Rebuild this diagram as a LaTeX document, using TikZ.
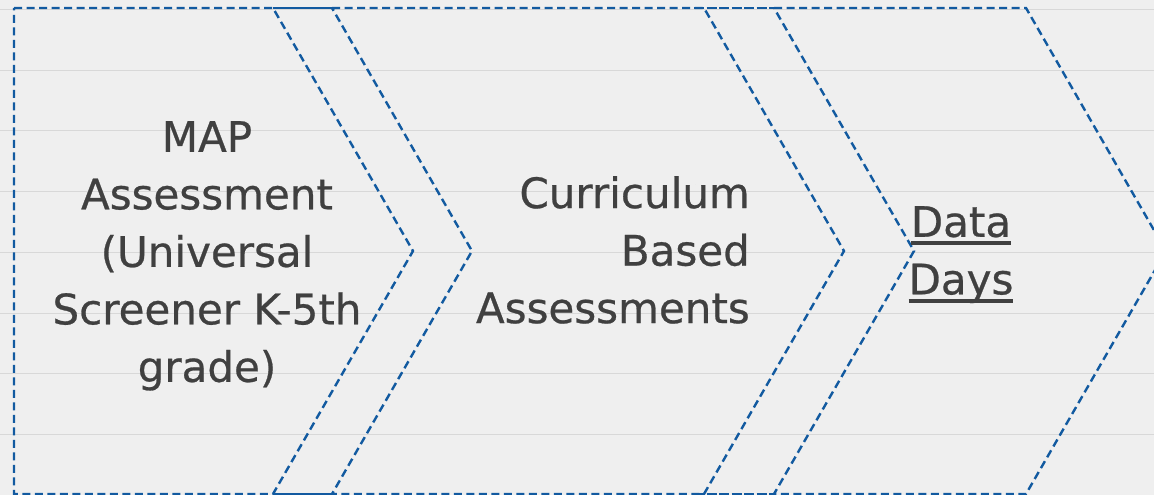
\documentclass[tikz,border=0pt]{standalone}
\usepackage{fontspec}
\setmainfont{DejaVu Sans}[FakeBold=0.6]
\definecolor{paper}{RGB}{239,239,239}
\definecolor{ruling}{RGB}{216,216,216}
\definecolor{edge}{RGB}{18,90,160}
\definecolor{ink}{RGB}{64,64,64}
% underline at a fixed depth below the baseline
\newcommand{\ulword}[1]{\setbox0\hbox{#1}\rlap{\rule[-0.2em]{\wd0}{0.1em}}\box0}
\begin{document}
\begin{tikzpicture}[x=1pt,y=-1pt,
  outline/.style={draw=edge,line width=2.4pt,dash pattern=on 8pt off 4.5pt,line join=miter},
  joint/.style={draw=edge,line width=2.4pt},
  label/.style={text=ink,inner sep=0pt,align=#1,font=\fontsize{42}{57.5}\selectfont},
  ruled/.style={draw=ruling,line width=1pt}]
  \useasboundingbox (0,0) rectangle (1154,495);
  \clip (0,0) rectangle (1154,495);
  \fill[paper] (0,0) rectangle (1154,495);
  % notebook ruling
  \foreach \k in {0,...,8}
    \draw[ruled] (0,{9.5+60.7*\k}) -- (1154,{9.5+60.7*\k});
  % first step: flat left side, pointed right side
  \draw[outline] (14,8) -- (273,8) -- (413,251) -- (273,494) -- (14,494) -- cycle;
  % second step: chevron
  \draw[outline] (332,8) -- (704,8) -- (844,251) -- (704,494) -- (332,494) -- (472,251) -- cycle;
  % third step: chevron
  \draw[outline] (774,8) -- (1026,8) -- (1166,251) -- (1026,494) -- (774,494) -- (914,251) -- cycle;
  % overlapping edges between neighbouring steps
  \draw[joint] (273,8) -- (332,8);
  \draw[joint] (273,494) -- (332,494);
  \draw[joint,dash pattern=on 10pt off 2.5pt] (694,8) -- (774,8);
  \draw[joint,dash pattern=on 10pt off 2.5pt] (694,494) -- (774,494);
  % step texts
  \node[label=center,anchor=north] (map) at (207,121)
    {MAP\\Assessment\\(Universal\\Screener K-5th\\grade)};
  \node[label=right,anchor=north east] (cba) at (750,176)
    {Curriculum\\Based\\Assessments};
  \node[label=center,anchor=north] (days) at (961,206)
    {\ulword{Data}\\\ulword{Days}};
\end{tikzpicture}
\end{document}
